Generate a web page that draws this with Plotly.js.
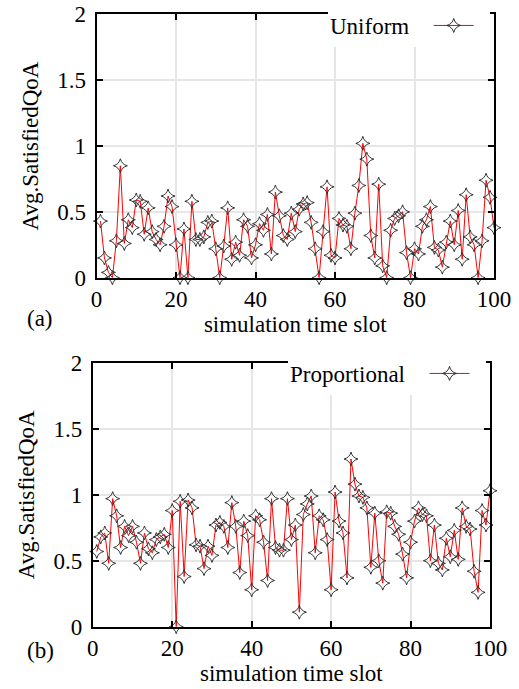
<!DOCTYPE html>
<html>
<head>
<meta charset="utf-8">
<script src="https://cdn.plot.ly/plotly-3.0.1.min.js"></script>
<style>html,body{margin:0;padding:0;background:#fff;}#chart{width:519px;height:689px;}</style>
</head>
<body>
<div id="chart"></div>
<script>
// simulation time slots
var timeSlots = [
  1,2,3,4,5,6,7,8,9,10,11,12,13,14,15,16,17,18,19,20,
  21,22,23,24,25,26,27,28,29,30,31,32,33,34,35,36,37,38,39,40,
  41,42,43,44,45,46,47,48,49,50,51,52,53,54,55,56,57,58,59,60,
  61,62,63,64,65,66,67,68,69,70,71,72,73,74,75,76,77,78,79,80,
  81,82,83,84,85,86,87,88,89,90,91,92,93,94,95,96,97,98,99,100
];
// (a) Uniform
var uniformQoA = [
  0.43,0.15,0.04,0.00,0.28,0.85,0.26,0.44,0.38,0.59,
  0.58,0.33,0.53,0.35,0.29,0.25,0.39,0.62,0.54,0.25,
  0.00,0.37,0.00,0.58,0.29,0.29,0.31,0.42,0.43,0.22,
  0.00,0.24,0.53,0.14,0.27,0.17,0.44,0.39,0.15,0.25,
  0.41,0.36,0.48,0.18,0.65,0.47,0.32,0.29,0.49,0.35,
  0.52,0.56,0.57,0.42,0.22,0.00,0.35,0.69,0.17,0.15,
  0.45,0.40,0.39,0.22,0.49,0.70,1.02,0.90,0.32,0.15,
  0.71,0.09,0.00,0.36,0.45,0.47,0.50,0.19,0.00,0.22,
  0.18,0.39,0.44,0.54,0.23,0.21,0.08,0.27,0.43,0.25,
  0.51,0.14,0.63,0.31,0.25,0.00,0.28,0.74,0.61,0.38
];
// (b) Proportional
var proportionalQoA = [
  0.57,0.68,0.71,0.48,0.97,0.84,0.60,0.76,0.69,0.76,
  0.64,0.48,0.71,0.59,0.56,0.66,0.68,0.70,0.60,0.88,
  0.00,0.95,0.38,0.96,0.90,0.62,0.61,0.44,0.61,0.54,
  0.77,0.79,0.76,0.60,0.94,0.76,0.41,0.80,0.69,0.28,
  0.84,0.81,0.64,0.35,0.97,0.60,0.58,0.58,0.97,0.66,
  0.77,0.11,0.85,0.93,0.99,0.56,0.84,0.81,0.66,0.28,
  1.02,0.80,0.71,0.37,1.27,1.08,0.99,0.98,0.90,0.45,
  0.86,0.50,0.33,0.87,0.86,0.76,0.70,0.55,0.37,0.64,
  0.80,0.90,0.85,0.84,0.50,0.77,0.48,0.43,0.67,0.53,
  0.73,0.51,0.90,0.76,0.74,0.42,0.26,0.88,0.77,1.03
];
var seriesNames = ['Uniform', 'Proportional'];
var xTitle = 'simulation time slot';
var yTitle = 'Avg.SatisfiedQoA';
var panelLabels = ['(a)', '(b)'];

var W = 519, H = 689;
var FONT = 'Liberation Serif, Times New Roman, serif';

function trace(y, xa, ya, leg) {
  return {
    type: 'scatter', mode: 'lines+markers',
    x: timeSlots, y: y, xaxis: xa, yaxis: ya,
    name: ' ', legend: leg, showlegend: true, cliponaxis: false,
    line: {color: '#ff0000', width: 1},
    marker: {symbol: 'star-diamond-open', size: 10, color: '#333', line: {width: 1, color: '#333'}}
  };
}

function xax(domain, anchor) {
  return {
    domain: domain, anchor: anchor, range: [0, 100], tick0: 0, dtick: 20,
    ticks: 'inside', ticklen: 6, tickwidth: 2, tickcolor: '#000',
    showline: true, linewidth: 2, linecolor: '#000', mirror: 'allticks',
    showgrid: true, gridcolor: '#e6e6e6', gridwidth: 2, zeroline: false,
    tickfont: {family: FONT, size: 23, color: '#000'},
    title: {text: xTitle, font: {family: FONT, size: 23, color: '#000'}, standoff: 2}
  };
}
function yax(domain, anchor) {
  return {
    domain: domain, anchor: anchor, range: [0, 2], tick0: 0, dtick: 0.5,
    ticks: 'inside', ticklen: 6, tickwidth: 2, tickcolor: '#000',
    showline: true, linewidth: 2, linecolor: '#000', mirror: 'allticks',
    showgrid: true, gridcolor: '#e6e6e6', gridwidth: 2, zeroline: false,
    tickfont: {family: FONT, size: 23, color: '#000'}, ticklabelstandoff: 4,
    title: {text: yTitle, font: {family: FONT, size: 23, color: '#000'}, standoff: 12}
  };
}
function legend(title, xr, ytop) {
  return {
    x: xr / W, xanchor: 'right', y: 1 - ytop / H, yanchor: 'top',
    bgcolor: '#fff', borderwidth: 0, orientation: 'h',
    font: {family: FONT, size: 23, color: '#000'},
    title: {text: title + '\u00a0\u00a0', side: 'left', font: {family: FONT, size: 23, color: '#000'}},
    itemwidth: 40, tracegroupgap: 0
  };
}

var data = [
  trace(uniformQoA, 'x', 'y', 'legend'),
  trace(proportionalQoA, 'x2', 'y2', 'legend2')
];

var layout = {
  width: W, height: H,
  margin: {l: 0, r: 0, t: 0, b: 0},
  paper_bgcolor: '#fff', plot_bgcolor: '#fff',
  font: {family: FONT, size: 23, color: '#000'},
  xaxis: xax([96.5 / W, 494 / W], 'y'),
  yaxis: yax([1 - 277.7 / H, 1 - 14.3 / H], 'x'),
  xaxis2: xax([92.8 / W, 490 / W], 'y2'),
  yaxis2: yax([1 - 626.7 / H, 1 - 362.7 / H], 'x2'),
  legend: legend(seriesNames[0], 490, 4),
  legend2: legend(seriesNames[1], 486, 352),
  annotations: [
    {text: panelLabels[0], xref: 'paper', yref: 'paper', x: 25 / W, y: 1 - 318 / H, showarrow: false, font: {family: FONT, size: 23, color: '#000'}},
    {text: panelLabels[1], xref: 'paper', yref: 'paper', x: 25 / W, y: 1 - 665 / H, showarrow: false, font: {family: FONT, size: 23, color: '#000'}}
  ],
  showlegend: true
};

Plotly.newPlot('chart', data, layout, {displayModeBar: false, staticPlot: true});
</script>
</body>
</html>
